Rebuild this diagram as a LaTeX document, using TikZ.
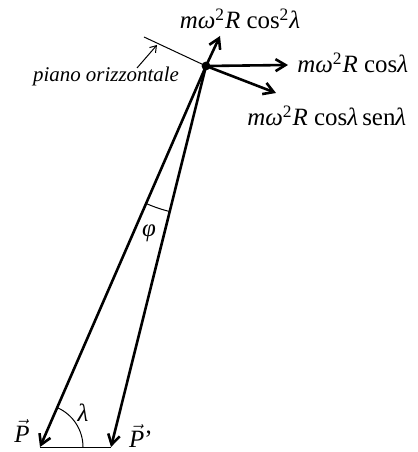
\documentclass[tikz,border=0pt]{standalone}
\usepackage{fontspec}
\setmainfont{Liberation Serif}
\usetikzlibrary{arrows.meta}

\begin{document}
\begin{tikzpicture}[x=0.5bp, y=0.5bp,
    forza/.style={line width=1.3pt, -{Straight Barb[length=5pt, width=6pt]}},
    sottile/.style={line width=0.5pt},
    lbl/.style={inner sep=0pt, font=\fontsize{12.5}{14}\selectfont}]

    \useasboundingbox (0,0) rectangle (418,452);

    % --- Punti principali ---
    \coordinate (O) at (206,386);
    \coordinate (P) at (40,5);
    \coordinate (Pp) at (111,5);
    \coordinate (Fv) at (220,416);
    \coordinate (Fh) at (288,387);
    \coordinate (Ft) at (276,359);
    \coordinate (H) at (144,415);

    % --- Piano orizzontale ---
    \draw[sottile] (H) -- (O);
    \node[inner sep=0pt, font=\itshape\fontsize{10.5}{12}\selectfont] (piano) at (106,376) {piano orizzontale};
    \coordinate (pa) at (137,384);
    \coordinate (pb) at (157,407);
    \draw[sottile, -{Straight Barb[length=3pt, width=4pt]}] (pa) -- (pb);

    % --- Pesi P e P' ---
    \draw[forza] (O) -- (P);
    \draw[forza] (O) -- (Pp);
    \draw[sottile] (P) -- (Pp);

    % --- Componenti della forza centrifuga ---
    \draw[forza] (O) -- (Fv);
    \draw[forza] (O) -- (Fh);
    \draw[forza] (O) -- (Ft);
    \fill (O) circle (2.2bp);

    % --- Angoli ---
    \draw[sottile] (P) ++(43,0) arc[start angle=0, end angle=66.5, radius=43];
    \draw[sottile] (O) ++(246.5:150) arc[start angle=246.5, end angle=256, radius=150];

    % --- Etichette ---
    \node[lbl] (lv) at (240,433) {\textit{mω}\textsuperscript{2}\textit{R} cos\textsuperscript{2}\textit{λ}};
    \node[lbl, anchor=west] (lh) at (297,389) {\textit{mω}\textsuperscript{2}\textit{R} cos\textit{λ}};
    \node[lbl, anchor=west] (lt) at (247,336) {\textit{mω}\textsuperscript{2}\textit{R} cos\textit{λ}\,sen\textit{λ}};
    \node[lbl] (lP) at (22,21) {$\vec{\hbox{\itshape P}}$};
    \node[lbl] (lPp) at (141,16) {$\vec{\hbox{\itshape P}}$\char"27};
    \node[lbl] (llam) at (83,39) {\textit{λ}};
    \node[lbl] (lphi) at (149,219) {\textit{φ}};

\end{tikzpicture}
\end{document}
